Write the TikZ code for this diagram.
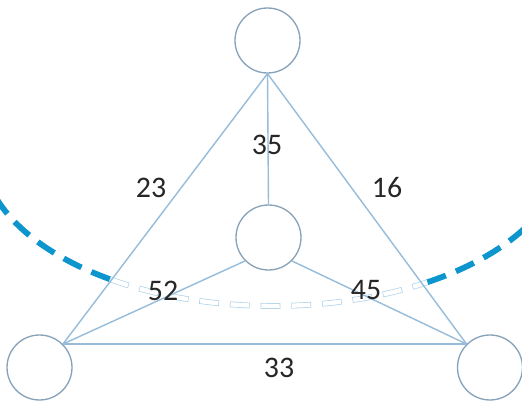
\documentclass[tikz,border=0pt]{standalone}
\usepackage{fontspec}
\setmainfont{Carlito}
\definecolor{edgeblue}{RGB}{150,188,218}
\definecolor{ringgray}{RGB}{135,162,185}
\definecolor{cutblue}{RGB}{12,150,205}
\definecolor{cutpale}{RGB}{175,210,232}
\tikzset{
  vertex/.style={circle,draw=ringgray,line width=0.75pt,minimum size=1.3cm,inner sep=0pt},
  weight/.style={font=\fontsize{17}{20}\selectfont,text=black!85,inner sep=1pt},
  cut/.style={cutblue,line width=3.3pt,dash pattern=on 11.3pt off 6.2pt},
  cutrim/.style={cutpale,line width=3.3pt,dash pattern=on 11.3pt off 6.2pt},
  cutfill/.style={white,line width=2.5pt,dash pattern=on 10.5pt off 7pt,dash phase=17.1pt},
  link/.style={edgeblue,line width=0.8pt}
}
\begin{document}
\begin{tikzpicture}[x=0.02cm,y=0.02cm]
  \useasboundingbox (0,0) rectangle (522,403);
  \clip (0,0) rectangle (522,403);
  \coordinate (cutc) at (273,253);
  % the cut
  \draw[cut] (cutc) ++(235.9:291 and 156)
    arc[start angle=235.9,end angle=195,x radius=291,y radius=156];
  \draw[cut] (cutc) ++(302:291 and 156)
    arc[start angle=302,end angle=335,x radius=291,y radius=156];
  \draw[cutrim] (cutc) ++(235.9:291 and 156)
    arc[start angle=235.9,end angle=302,x radius=291,y radius=156];
  \draw[cutfill] (cutc) ++(235.9:291 and 156)
    arc[start angle=235.9,end angle=302,x radius=291,y radius=156];
  \draw
    (267.5,362.5) node[vertex] (top){}
    (268.5,165.5) node[vertex] (mid){}
    (39.5,35.5) node[vertex] (bl){}
    (490,35.5) node[vertex] (br){};
  \begin{scope}[link]
    \draw (top.south) to (bl.north east);
    \draw (top.south) to (br.north west);
    \draw (bl.north east) to (br.north west);
    \draw (mid.north) to (top.south);
    \draw (mid.south west) to (bl.north east);
    \draw (mid.south east) to (br.north west);
  \end{scope}
  \draw
    (267,258) node[weight] (w35){35}
    (151,215) node[weight] (w23){23}
    (387,215) node[weight] (w16){16}
    (163,112) node[weight] (w52){52}
    (366,113) node[weight] (w45){45}
    (279,35) node[weight] (w33){33};
\end{tikzpicture}
\end{document}
